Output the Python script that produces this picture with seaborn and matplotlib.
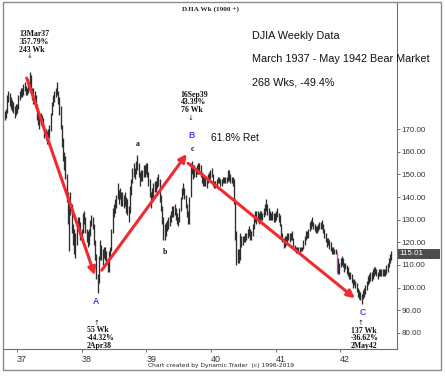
import pandas as pd
import seaborn as sns
import matplotlib.pyplot as plt
import matplotlib.dates as mdates
import matplotlib.transforms as mtransforms
from matplotlib.patches import Rectangle

# weekly DJIA bars, Oct 1936 - Oct 1942
weeks = pd.date_range('1936-10-24', periods=313, freq='7D')
highs = [
    178, 179, 185, 187, 186, 184, 183, 182, 180, 181, 181, 185, 187,
    188, 188, 190, 191, 189, 188, 192, 195, 194, 188, 188, 187, 185,
    181, 177, 176, 177, 176, 175, 172, 170, 169, 170, 172, 177, 182,
    185, 187, 188, 191, 187, 184, 180, 172, 166, 160, 158, 150, 142,
    139, 142, 137, 128, 126, 124, 128, 131, 131, 129, 126, 133, 134,
    131, 126, 125, 126, 130, 132, 131, 128, 121, 115, 106, 114, 121,
    119, 117, 118, 118, 116, 113, 116, 118, 126, 135, 137, 139, 141,
    146, 143, 144, 142, 142, 141, 142, 140, 139, 136, 145, 148, 153,
    155, 153, 156, 158.5, 155, 151, 152, 152, 154, 154, 155, 155, 151,
    148, 142, 144, 146, 147, 147, 149, 150, 148, 141, 136, 131, 128,
    129, 130, 131, 132, 134, 136, 136, 137, 135, 133, 131, 135, 140,
    144, 146, 144, 141, 137, 134, 140, 155, 156, 154, 154, 153, 154,
    155, 155, 154, 151, 150, 149, 149, 148, 150, 151, 152, 153, 150,
    147, 147, 148, 149, 149, 148, 148, 149, 149, 149, 149, 152, 152,
    150, 149, 149, 148, 139, 125, 117, 117, 124, 123, 123, 123, 124,
    124, 126, 127, 126, 125, 128, 131, 134, 134, 134, 133, 134, 134,
    133, 135, 137, 139, 137, 135, 134, 133, 134, 133, 133, 134, 135,
    133, 132, 128, 124, 122, 123, 123, 124, 124, 124, 124, 125, 122,
    119, 118, 118, 118, 118, 118, 118, 121, 123, 125, 125, 126, 129,
    130, 131, 129, 128, 127, 127, 128, 129, 129, 130, 128, 126, 124,
    122, 122, 121, 120, 118, 118, 117, 117, 116, 113, 111, 113, 114,
    113, 111, 111, 110, 109, 107, 107, 106, 104, 104, 103, 102, 100,
    99, 98, 97, 99, 100, 101, 103, 105, 106, 107, 107, 108, 109,
    109, 108, 107, 108, 108, 108, 108, 108, 108, 110, 111, 113, 115, 116,
]
lows = [
    174, 175, 177, 182, 180, 179, 178, 177, 175, 176, 177, 179, 183,
    184, 184, 185, 187, 185, 185, 186, 189, 186, 183, 181, 182, 179,
    174, 172, 170, 172, 171, 170, 166, 165, 163.5, 165, 166, 169, 176,
    180, 182, 184, 185, 181, 176, 170, 162, 156, 152, 148, 138, 128,
    116, 132, 124, 119, 115, 113, 119, 125, 125, 121, 120, 124, 128,
    124, 120, 118, 119, 123, 127, 126, 119, 112, 104, 97.5, 102, 112,
    112, 110, 113, 112, 110, 107, 107, 113, 116, 124, 131, 133, 135,
    139, 137, 139, 136, 136, 135, 136, 133, 132, 129, 133, 141, 146,
    149, 148, 150, 152, 149, 145, 147, 147, 149, 149, 150, 149, 145,
    140, 135, 138, 140, 142, 142, 144, 145, 138, 134, 128, 121, 121,
    123, 125, 126, 127, 129, 131, 131, 132, 130, 128, 127, 129, 134,
    139, 141, 139, 135, 131, 128, 128, 140, 150, 148, 149, 149, 150,
    150, 150, 149, 146, 145, 145, 145, 144, 146, 147, 148, 149, 145,
    144, 144, 145, 146, 146, 145, 145, 146, 146, 146, 146, 147, 147,
    146, 146, 145, 137, 121, 110, 111, 111, 112, 118, 119, 120, 120,
    121, 122, 123, 121, 121, 123, 126, 129, 128, 129, 128, 130, 130,
    130, 131, 132, 134, 132, 130, 130, 130, 130, 129, 129, 130, 131,
    129, 127, 122, 120, 117.5, 118, 119, 120, 121, 120, 121, 121, 118,
    116, 115.5, 115.5, 115.5, 115.5, 116, 116, 117, 119, 121, 122, 122, 125,
    126, 127, 126, 125, 124, 124, 125, 126, 126, 126, 124, 122, 120,
    118, 119, 117, 116, 115, 115, 115, 115, 106.5, 106, 106, 109, 110,
    109, 107, 108, 106, 105, 104, 104, 102, 100, 101, 100, 98, 96,
    95, 94.5, 92.9, 95, 96, 97, 99, 101, 102, 103, 103, 104, 105,
    106, 105, 104, 105, 105, 105, 105, 105, 105, 106, 107, 109, 111, 112,
]
assert len(highs) == len(lows) == len(weeks)
last_close = 115.01
highlight_week = pd.Timestamp('1941-12-13')

year_ticks = pd.to_datetime(['1937-01-01', '1938-01-01', '1939-01-01',
                             '1940-01-01', '1941-01-01', '1942-01-01'])
year_labels = ['37', '38', '39', '40', '41', '42']
price_ticks = [80, 90, 100, 110, 120, 130, 140, 150, 160, 170]

# wave lines (start date, price) -> (end date, price)
wave_lines = [
    (('1937-02-25', 192.5), ('1938-03-17', 105.5)),
    (('1938-04-25', 107.7), ('1939-08-18', 159.0)),
    (('1939-08-26', 154.9), ('1942-03-25', 95.3)),
]

W, H = 445, 376
def fx(x):
    return x / W
def fy(y):
    return 1 - y / H

sns.set_style('white')
plt.rcParams['font.family'] = ['Liberation Sans', 'DejaVu Sans']

fig = plt.figure(figsize=(W / 100, H / 100), dpi=100)
ax = fig.add_axes([fx(3), fy(349), (397 - 3) / W, (349 - 2) / H])

xs = mdates.date2num(weeks)
colors = ['#ff33dd' if d == highlight_week else '#2e2e2e' for d in weeks]
ax.vlines(xs, lows, highs, colors=colors, lw=0.95)

ax.set_xlim(mdates.date2num(pd.Timestamp('1936-10-14')),
            mdates.date2num(pd.Timestamp('1942-11-18')))
ax.set_ylim(72.9, 226.1)

# wave arrows
for (d0, p0), (d1, p1) in wave_lines:
    ax.annotate('', xy=(mdates.date2num(pd.Timestamp(d1)), p1),
                xytext=(mdates.date2num(pd.Timestamp(d0)), p0),
                arrowprops=dict(arrowstyle='-|>', color='#f22a30', lw=2.2,
                                mutation_scale=11, shrinkA=0, shrinkB=0))

def note(date, price, text, dx, dy, **kw):
    ax.annotate(text, xy=(mdates.date2num(pd.Timestamp(date)), price),
                xytext=(dx, dy), textcoords='offset pixels',
                va='center', annotation_clip=False, **kw)

serif_bold = dict(family='Liberation Serif', fontweight='bold', fontsize=5.6,
                  linespacing=0.95, color='#111111')
wave_lbl = dict(fontweight='bold', fontsize=6.2, color='#5533ff', ha='center')
arrow_kw = dict(family='DejaVu Sans', fontsize=5, ha='center', color='#222222')

note('1937-03-13', 195, '13Mar37\n357.79%\n243 Wk', -10.3, 30.4, ha='left', **serif_bold)
note('1937-03-13', 195, '\u2193', -0.5, 16.4, **arrow_kw)

note('1938-04-02', 97.5, 'A', -2.2, -8.4, **wave_lbl)
note('1938-04-02', 97.5, '\u2191', -1.2, -29.4, **arrow_kw)
note('1938-04-02', 97.5, '55 Wk\n-44.32%\n2Apr38', -10.6, -44.7, ha='left', **serif_bold)

note('1939-09-16', 156, 'B', -0.3, 25, **wave_lbl)
note('1939-09-16', 156, 'c', 0.7, 11.7, ha='center', **serif_bold)
note('1939-09-16', 156, '\u2193', -1.3, 42.5, **arrow_kw)
note('1939-09-16', 156, '16Sep39\n43.39%\n76 Wk', -11, 58.5, ha='left', **serif_bold)

note('1942-05-02', 92.9, 'C', 1.6, -9.1, **wave_lbl)
note('1942-05-02', 92.9, '\u2191', -0.7, -19.1, **arrow_kw)
note('1942-05-02', 92.9, '137 Wk\n-36.62%\n2May42', -10.7, -34.7, ha='left', **serif_bold)

note('1938-11-12', 158.5, 'a', 0.8, 11, ha='center', **serif_bold)
note('1939-04-08', 121, 'b', 1.5, -11.7, ha='center', **serif_bold)

# axes styling
for side in ['top', 'left']:
    ax.spines[side].set_visible(False)
for side in ['bottom', 'right']:
    ax.spines[side].set_color('#6e6e6e')
    ax.spines[side].set_linewidth(0.8)

ax.set_xticks(mdates.date2num(year_ticks))
ax.set_xticklabels(year_labels, ha='left')
ax.tick_params(axis='x', bottom=True, direction='out', length=2.5, width=0.7,
               color='#6e6e6e', pad=2, labelsize=6.4, labelcolor='#333333')
ax.yaxis.tick_right()
ax.set_yticks(price_ticks)
ax.set_yticklabels([f'{p:.2f}' for p in price_ticks])
ax.tick_params(axis='y', right=True, direction='out', length=2, width=0.7,
               color='#6e6e6e', pad=1, labelsize=5.8, labelcolor='#333333')

# last price box
trans = mtransforms.blended_transform_factory(ax.transAxes, ax.transData)
ax.add_patch(Rectangle((1.0, last_close - 2.2), 0.108, 4.4, transform=trans,
                       facecolor='#4d4d4d', edgecolor='none', clip_on=False))
ax.text(1.006, last_close, f'{last_close:.2f}', transform=trans, va='center',
        ha='left', fontsize=5.8, color='white')

# texts
fig.text(fx(211), fy(9.5), 'DJIA Wk (1900 +)', ha='center', va='center',
         family='Liberation Serif', fontweight='bold', fontsize=5.2)
for y, t in [(36, 'DJIA Weekly Data'),
             (59.3, 'March 1937 - May 1942 Bear Market'),
             (82.7, '268 Wks, -49.4%')]:
    fig.text(fx(251.7), fy(y), t, ha='left', va='center', fontsize=7.8,
             color='#111111')
fig.text(fx(211), fy(137.7), '61.8% Ret', ha='left', va='center',
         fontsize=7.4, color='#111111')
fig.text(fx(221), fy(366), 'Chart created by Dynamic Trader  (c) 1996-2019',
         ha='center', va='center', family='DejaVu Sans', fontsize=4.3,
         color='#222222')

# outer frame
fig.patches.append(Rectangle((fx(2.5), fy(370)), (441 - 2.5) / W, 368 / H,
                             transform=fig.transFigure, fill=False,
                             edgecolor='#8a8a8a', lw=1.0))

fig.savefig('out.png', dpi=100)
